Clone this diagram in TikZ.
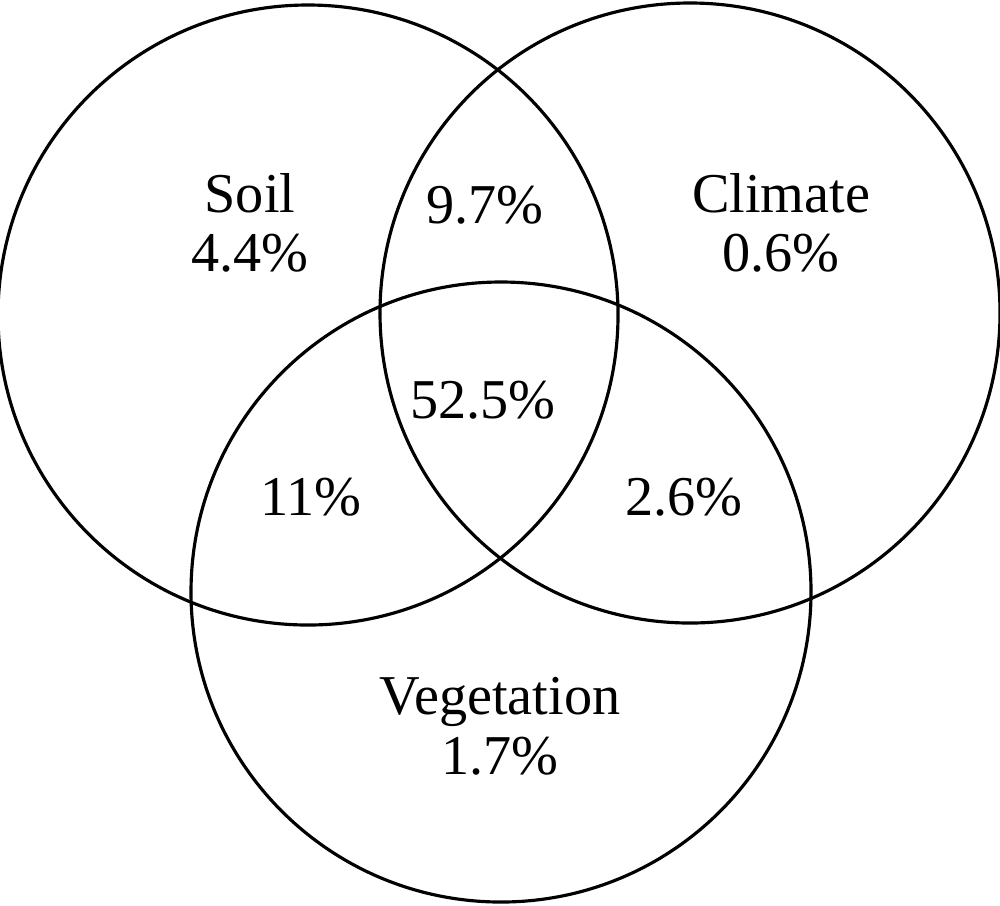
\documentclass[tikz,border=0pt]{standalone}
\usepackage{fontspec}
\setmainfont{Liberation Serif}
\usepackage{tikz}

\begin{document}
\begin{tikzpicture}
        \tikzset{ring/.style={black, line width=0.9pt}, lbl/.style={align=center, font=\fontsize{16}{17}\selectfont}}
        \useasboundingbox (0, 0) rectangle (10, 9.05);
        \coordinate (soilc) at (3.08, 5.90);
        \coordinate (climc) at (6.90, 5.92);
        \coordinate (vegc) at (5.01, 3.13);
        \draw [ring] (soilc) circle (3.1);
        \draw [ring] (climc) circle (3.1);
        \draw [ring] (vegc) circle (3.1);
        \node [lbl] (soil) at (2.50, 6.82) {Soil\\4.4\%};
        \node [lbl] (clim) at (7.81, 6.82) {Climate\\0.6\%};
        \node [lbl] (veg) at (5.00, 1.79) {Vegetation\\1.7\%};
        \node [lbl] (sc) at (4.85, 7.00) {9.7\%};
        \node [lbl] (all) at (4.83, 5.05) {52.5\%};
        \node [lbl] (sv) at (3.11, 4.08) {11\%};
        \node [lbl] (cv) at (6.84, 4.08) {2.6\%};
    \end{tikzpicture}
\end{document}
